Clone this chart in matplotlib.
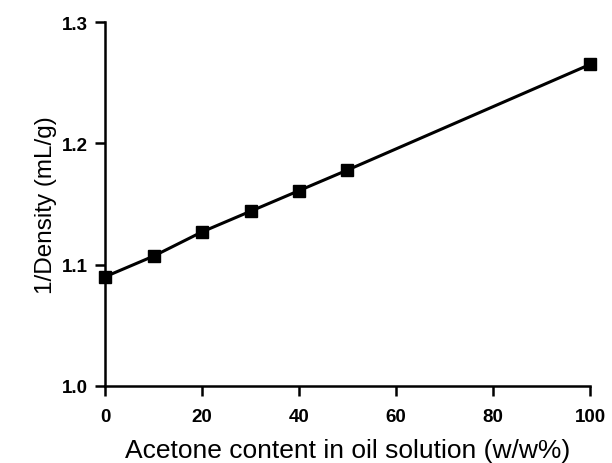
import matplotlib
matplotlib.use("Agg")
import matplotlib.pyplot as plt

acetone = [0, 10, 20, 30, 40, 50, 100]
inv_density = [1.090, 1.107, 1.127, 1.144, 1.161, 1.178, 1.265]

x_ticks = [0, 20, 40, 60, 80, 100]
y_ticks = [1.0, 1.1, 1.2, 1.3]
y_tick_labels = ["1.0", "1.1", "1.2", "1.3"]

plt.rcParams['font.family'] = ['Liberation Sans', 'DejaVu Sans']

fig = plt.figure(figsize=(6.12, 4.64), dpi=100)
ax = fig.add_axes([0.1716, 0.166, 0.7924, 0.7844])

ax.plot(acetone, inv_density, color='black', linewidth=2.2,
        marker='s', markersize=9, clip_on=False, zorder=3)

ax.set_xlim(0, 100)
ax.set_ylim(1.0, 1.3)
ax.set_xticks(x_ticks)
ax.set_yticks(y_ticks)
ax.set_yticklabels(y_tick_labels)

for side in ['top', 'right']:
    ax.spines[side].set_visible(False)
for side in ['left', 'bottom']:
    ax.spines[side].set_linewidth(1.8)

ax.tick_params(axis='both', direction='out', length=7, width=1.8,
               labelsize=13.5)
ax.tick_params(axis='x', pad=9)
ax.tick_params(axis='y', pad=5)
for lab in ax.get_xticklabels() + ax.get_yticklabels():
    lab.set_fontweight('bold')

ax.set_xlabel('Acetone content in oil solution (w/w%)', fontsize=19, labelpad=9)
ax.set_ylabel('1/Density (mL/g)', fontsize=17.5, labelpad=4)

fig.savefig('out.png', dpi=100)
